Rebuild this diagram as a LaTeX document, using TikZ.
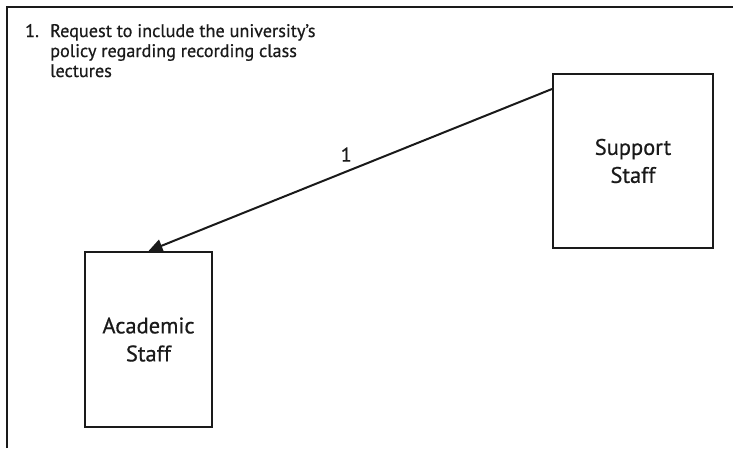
\documentclass[tikz,border=0pt]{standalone}
\usepackage{fontspec}
\setmainfont{PT Sans}[FakeBold=0.6]
\usetikzlibrary{arrows.meta}
\definecolor{ink}{HTML}{1A1A1A}
\begin{document}
\begin{tikzpicture}[x=1pt,y=-1pt,
  box/.style={draw=ink,line width=2pt,inner sep=0pt,align=center,font=\fontsize{22.5}{28}\selectfont,text=ink},
  conn/.style={draw=ink,line width=2pt,-{Triangle[length=14pt,width=13pt]}},
  captext/.style={font=\fontsize{18.2}{20}\selectfont,text=ink,inner sep=0pt}]
\useasboundingbox (0,0) rectangle (733,448);
\fill[white] (0,0) rectangle (733,448);
\draw[ink,line width=2pt] (7,448) -- (7,7) -- (733,7);
\node[box,minimum width=127pt,minimum height=175pt] (ac) at (148.5,339.5) {Academic\\Staff};
\node[box,minimum width=160pt,minimum height=174pt] (su) at (633,161) {Support\\Staff};
\coordinate (s) at ([yshift=-16pt]su.north west);
\draw[conn] (s) -- (ac.north) node[midway,anchor=south,yshift=4pt,xshift=-4pt,font=\fontsize{20}{20}\selectfont,text=ink] (l1) {1};
\node[captext,anchor=base west] (n1) at (25,37) {1.};
\node[captext,anchor=base west] (t1) at (50,37) {Request to include the university’s};
\node[captext,anchor=base west] (t2) at (50,57) {policy regarding recording class};
\node[captext,anchor=base west] (t3) at (50,77) {lectures};
\end{tikzpicture}
\end{document}
